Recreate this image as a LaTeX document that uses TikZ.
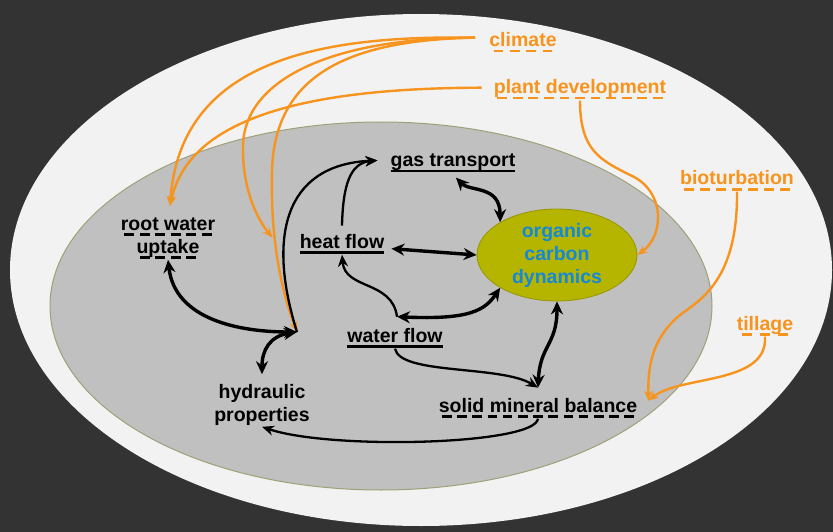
\documentclass[tikz,border=0pt]{standalone}
\usepackage{fontspec}
\setmainfont{Liberation Sans}
\usepackage{xcolor}
\usetikzlibrary{arrows.meta,shapes.geometric}
\definecolor{bgdark}{RGB}{51,51,51}
\definecolor{outerfill}{RGB}{242,242,242}
\definecolor{soilfill}{RGB}{192,192,192}
\definecolor{soilrim}{RGB}{160,160,120}
\definecolor{ocdfill}{RGB}{181,181,0}
\definecolor{ocdrim}{RGB}{150,150,0}
\definecolor{ocdtext}{RGB}{20,137,216}
\definecolor{drv}{RGB}{247,148,30}
\newsavebox\ulbox
\newcommand\ulsolid[1]{\sbox\ulbox{#1}\rlap{\rule[-5.5pt]{\wd\ulbox}{2.2pt}}\usebox\ulbox}
\newcommand\uldash[1]{\sbox\ulbox{#1}\rlap{\hbox to\wd\ulbox{\xleaders\hbox{\kern.12em\rule[-5.5pt]{.5em}{2.2pt}\kern.12em}\hfill}}\usebox\ulbox}
\tikzset{
  lbl/.style={font=\bfseries\fontsize{19.5}{23}\selectfont,inner sep=1pt,align=center},
  drvlbl/.style={lbl,text=drv},
  ocd/.style={lbl,ellipse,draw=ocdrim,fill=ocdfill,line width=0.8pt,minimum width=160pt,minimum height=92pt,inner sep=0pt,text=ocdtext},
  ln/.style={-{Stealth[length=12pt,width=10pt]},line width=2.3pt},
  dbl/.style={{Stealth[length=13pt,width=12pt]}-{Stealth[length=13pt,width=12pt]},line width=3.4pt},
  drvln/.style={-{Stealth[length=10pt,width=8pt]},line width=2.4pt,draw=drv}
}
\begin{document}
\begin{tikzpicture}[x=1pt,y=-1pt]
\fill[bgdark] (0,0) rectangle (833,532);
\useasboundingbox (0,0) rectangle (833,532);
\fill[outerfill] (421,270) ellipse [x radius=411pt,y radius=256pt];
\filldraw[fill=soilfill,draw=soilrim,line width=1pt] (381,306) ellipse [x radius=331pt,y radius=184pt];

\node[ocd] (ocd) at (557,255) {organic\\carbon\\dynamics};
\node[lbl,anchor=base] (gas) at (453,167) {\ulsolid{gas transport}};
\node[lbl,anchor=base] (heat) at (342,248) {\ulsolid{heat flow}};
\node[lbl,anchor=base] (water) at (395,342) {\ulsolid{water flow}};
\node[lbl,anchor=base] (smb) at (538,412) {\uldash{solid mineral balance}};
\node[lbl] (rwu) at (168,238) {\uldash{root water}\\\uldash{uptake}};
\node[lbl] (hydr) at (262,405) {hydraulic\\properties};
\node[drvlbl,anchor=base] (clim) at (523,47) {\uldash{climate}};
\node[drvlbl,anchor=base] (pdev) at (580,94) {\uldash{plant development}};
\node[drvlbl,anchor=base] (biot) at (737,185) {\uldash{bioturbation}};
\node[drvlbl,anchor=base] (till) at (765,330) {\uldash{tillage}};
\coordinate (jn) at (297,332);

\draw[drvln] ([shift={(-13,-5)}]clim.west) .. controls (320,35) and (180,60) .. ([shift={(2,-10)}]rwu.north);
\draw[drvln] ([shift={(-13,-5)}]clim.west) .. controls (330,38) and (245,80) .. (243,145) .. controls (242,190) and (258,220) .. ([shift={(-26,-6)}]heat.west);
\draw[drvln] ([shift={(-13,-5)}]clim.west) .. controls (340,40) and (275,80) .. (272,170) .. controls (270,250) and (285,300) .. (jn);
\draw[drvln] ([shift={(-11,-2)}]pdev.west) .. controls (330,88) and (190,110) .. ([shift={(2,-10)}]rwu.north);
\draw[drvln] (pdev.south) .. controls (580,150) and (600,160) .. (630,175) .. controls (665,190) and (665,235) .. (ocd.east);
\draw[drvln] (biot.south) .. controls (738,280) and (700,300) .. (680,315) .. controls (650,340) and (648,370) .. ([shift={(10,-7)}]smb.east);
\draw[drvln] (till.south) .. controls (768,385) and (680,375) .. ([shift={(10,-7)}]smb.east);

\draw[dbl] (rwu.south) .. controls (175,320) and (240,332) .. (jn);
\draw[dbl] (jn) .. controls (270,336) and (262,350) .. ([shift={(0,-9)}]hydr.north);
\draw[ln] (jn) .. controls (268,240) and (282,165) .. ([shift={(-12,-3)}]gas.west);
\draw[ln] ([shift={(0,-7)}]heat.north) .. controls (343,185) and (350,163) .. ([shift={(-12,-3)}]gas.west);
\draw[dbl] ([shift={(3,4)}]gas.south) .. controls (470,192) and (500,185) .. (ocd.north west);
\draw[dbl] ([shift={(6,5)}]heat.east) -- (ocd.west);
\draw[dbl] ([shift={(2,-10)}]water.north) .. controls (470,320) and (485,310) .. (ocd.south west);
\draw[ln] ([shift={(2,-10)}]water.north) .. controls (392,280) and (345,290) .. (heat.south);
\draw[dbl] (ocd.south) .. controls (557,345) and (540,345) .. ([shift={(0,-9)}]smb.north);
\draw[ln] (water.south) .. controls (400,375) and (500,365) .. ([shift={(0,-9)}]smb.north);
\draw[ln] (smb.south) .. controls (535,445) and (330,450) .. (hydr.south);
\end{tikzpicture}
\end{document}
